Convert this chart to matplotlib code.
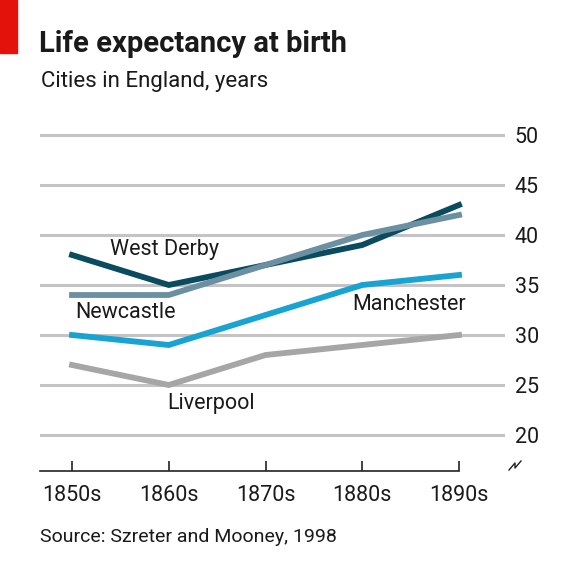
import matplotlib
matplotlib.use("Agg")
import matplotlib.pyplot as plt
from matplotlib.lines import Line2D
from matplotlib.patches import Rectangle

# data
decades = ["1850s", "1860s", "1870s", "1880s", "1890s"]
west_derby = [38, 35, 37, 39, 43]
newcastle = [34, 34, 37, 40, 42]
manchester = [30, 29, 32, 35, 36]
liverpool = [27, 25, 28, 29, 30]
yticks = [20, 25, 30, 35, 40, 45, 50]

W, H = 580, 562
plt.rcParams['font.family'] = ['Roboto', 'DejaVu Sans']

#pixel -> figure fraction
def fx(px):
	return px / W
def fy(py):
	return 1 - py / H

fig = plt.figure(figsize=(W / 100, H / 100), dpi=100)
fig.patch.set_facecolor("white")

# axes: left 40px, right 505px, top 125px, bottom 471px
ax = fig.add_axes([fx(40), fy(471), fx(505) - fx(40), (471 - 125) / H])
x = list(range(len(decades)))
ax.set_xlim(-32 / 96.75, 4 + 46 / 96.75)
ax.set_ylim(50 - (471 - 135) / 10, 50 + 10 / 10)

for t in yticks:
	ax.axhline(t, color="#c4c4c4", lw=2.2, zorder=1)

ax.plot(x, liverpool, color="#a6a6a6", lw=4.2, zorder=3, solid_joinstyle="miter")
ax.plot(x, manchester, color="#18a3d2", lw=4.2, zorder=3, solid_joinstyle="miter")
ax.plot(x, west_derby, color="#0b4b5f", lw=4.2, zorder=3, solid_joinstyle="miter")
ax.plot(x, newcastle, color="#6b90a2", lw=4.2, zorder=4, solid_joinstyle="miter")

lab = dict(fontsize=15.5, color="#1a1a1a", va="center", ha="left", zorder=5)
ax.text(0.39, 38.5, "West Derby", **lab)
ax.text(0.03, 32.2, "Newcastle", **lab)
ax.text(2.90, 33.1, "Manchester", **lab)
ax.text(0.98, 23.2, "Liverpool", **lab)

for s in ["top", "left", "right"]:
	ax.spines[s].set_visible(False)
ax.spines["bottom"].set_bounds(-32 / 96.75, 4)
ax.spines["bottom"].set_linewidth(1.2)
ax.spines["bottom"].set_color("#222222")

ax.set_xticks(x)
ax.set_xticklabels(decades)
ax.tick_params(axis="x", direction="in", length=7, width=1.2, color="#222222", pad=10, labelsize=15.5, labelcolor="#1a1a1a")
ax.yaxis.tick_right()
ax.set_yticks(yticks)
ax.tick_params(axis="y", length=0, pad=7, labelsize=15.5, labelcolor="#1a1a1a")
for lbl in ax.get_yticklabels():
	lbl.set_horizontalalignment("left")

# axis break mark
fig.lines.append(Line2D([fx(509), fx(515), fx(515), fx(521)], [fy(470), fy(463), fy(468), fy(461)],
	transform=fig.transFigure, color="#222222", lw=1.0))

# red tag, title, subtitle, source
fig.patches.append(Rectangle((0, fy(53)), fx(17), 53 / H, transform=fig.transFigure, color="#e3120b"))
fig.text(fx(39), fy(44), "Life expectancy at birth", fontsize=21, fontweight="bold", color="#1a1a1a", va="center")
fig.text(fx(41), fy(82), "Cities in England, years", fontsize=16, color="#1a1a1a", va="center")
fig.text(fx(40), fy(537), "Source: Szreter and Mooney, 1998", fontsize=14, color="#1a1a1a", va="center")

plt.savefig("out.png", dpi=100)
